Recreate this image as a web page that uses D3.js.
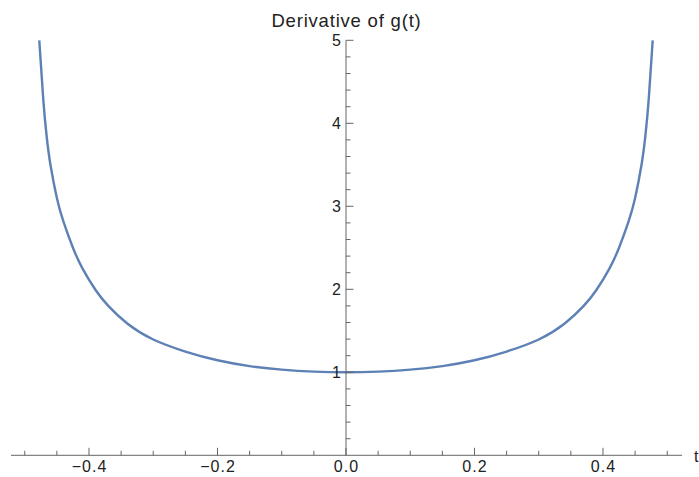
<!DOCTYPE html>
<html>
<head>
<meta charset="utf-8">
<script src="https://cdn.jsdelivr.net/npm/d3@7"></script>
<style>
  body { margin: 0; background: #fff; }
  text { font-family: "Liberation Sans", Arial, sans-serif; }
</style>
</head>
<body>
<svg id="chart" width="699" height="477"></svg>
<script>
// values
const tValues = [-0.4774, -0.4711, -0.466, -0.46, -0.45, -0.44, -0.425, -0.41, -0.39, -0.37, -0.34, -0.3,
                 -0.25, -0.2, -0.15, -0.1, -0.05, 0, 0.05, 0.1, 0.15, 0.2, 0.25, 0.3, 0.34,
                 0.37, 0.39, 0.41, 0.425, 0.44, 0.45, 0.46, 0.466, 0.4711, 0.4774];
const yValues = [5, 4.28, 3.85, 3.5, 3.1, 2.82, 2.5, 2.25, 1.995, 1.8, 1.585, 1.395,
                 1.25, 1.145, 1.075, 1.032, 1.008, 1.0, 1.008, 1.032, 1.075, 1.145, 1.25, 1.395, 1.585,
                 1.8, 1.995, 2.25, 2.5, 2.82, 3.1, 3.5, 3.85, 4.28, 5];
const xMajor = [-0.4, -0.2, 0, 0.2, 0.4];
const xMinor = [-0.5, -0.45, -0.35, -0.3, -0.25, -0.15, -0.1, -0.05, 0.05, 0.1, 0.15, 0.25, 0.3, 0.35, 0.45, 0.5];
const yMajor = [1, 2, 3, 4, 5];
const yMinor = [0.2, 0.4, 0.6, 0.8, 1.2, 1.4, 1.6, 1.8, 2.2, 2.4, 2.6, 2.8,
                3.2, 3.4, 3.6, 3.8, 4.2, 4.4, 4.6, 4.8];
const title = "Derivative of g(t)";

const data = tValues.map((t, i) => ({t: t, y: yValues[i]}));

const svg = d3.select("#chart");
const x = d3.scaleLinear().domain([-0.5214, 0.523]).range([11, 682]);
const y = d3.scaleLinear().domain([0, 5]).range([455.3, 40.3]);

const axisColor = "#666";
const fmt = d => d3.format(".1f")(d).replace("-", "\u2212");

// curve
const line = d3.line()
  .x(d => x(d.t))
  .y(d => y(d.y))
  .curve(d3.curveNatural);

svg.append("path")
  .datum(data)
  .attr("d", line)
  .attr("fill", "none")
  .attr("stroke", "#5e81b5")
  .attr("stroke-width", 2.4);

// x axis
const gx = svg.append("g");
gx.append("line")
  .attr("x1", x.range()[0]).attr("x2", x.range()[1])
  .attr("y1", y(0)).attr("y2", y(0))
  .attr("stroke", axisColor);
gx.selectAll(".minor").data(xMinor).join("line")
  .attr("x1", d => x(d)).attr("x2", d => x(d))
  .attr("y1", y(0)).attr("y2", y(0) - 4.5)
  .attr("stroke", axisColor);
gx.selectAll(".major").data(xMajor).join("line")
  .attr("x1", d => x(d)).attr("x2", d => x(d))
  .attr("y1", y(0)).attr("y2", y(0) - 7.5)
  .attr("stroke", axisColor);
gx.selectAll("text").data(xMajor).join("text")
  .attr("x", d => x(d) + 0.5)
  .attr("y", 472)
  .attr("text-anchor", "middle")
  .attr("font-size", 16)
  .attr("letter-spacing", 1)
  .attr("fill", "#222")
  .text(fmt);

// y axis
const gy = svg.append("g");
gy.append("line")
  .attr("x1", x(0)).attr("x2", x(0))
  .attr("y1", y(0)).attr("y2", y(5))
  .attr("stroke", axisColor);
gy.selectAll(".minor").data(yMinor).join("line")
  .attr("x1", x(0)).attr("x2", x(0) + 4.5)
  .attr("y1", d => y(d)).attr("y2", d => y(d))
  .attr("stroke", axisColor);
gy.selectAll(".major").data(yMajor).join("line")
  .attr("x1", x(0)).attr("x2", x(0) + 7.5)
  .attr("y1", d => y(d)).attr("y2", d => y(d))
  .attr("stroke", axisColor);
gy.selectAll("text").data(yMajor).join("text")
  .attr("x", x(0) - 5)
  .attr("y", d => y(d) + 6)
  .attr("text-anchor", "end")
  .attr("font-size", 16)
  .attr("fill", "#222")
  .text(d => d);

// axis label and title
svg.append("text")
  .attr("x", 694).attr("y", 462)
  .attr("font-size", 16)
  .attr("fill", "#222")
  .text("t");

svg.append("text")
  .attr("x", 346.5).attr("y", 27)
  .attr("text-anchor", "middle")
  .attr("font-size", 18.5)
  .attr("letter-spacing", 0.8)
  .attr("fill", "#222")
  .text(title);
</script>
</body>
</html>
